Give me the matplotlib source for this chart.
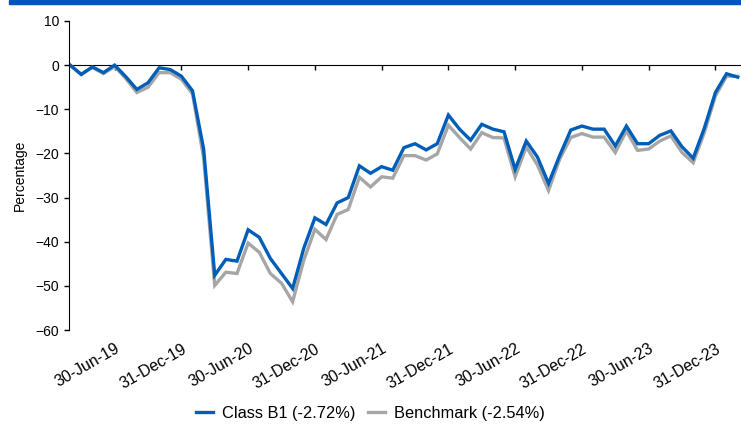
import matplotlib.pyplot as plt
from matplotlib.patches import Rectangle

plt.rcParams['font.family'] = ['Liberation Sans', 'DejaVu Sans']
plt.rcParams['font.size'] = 10

# month-end cumulative returns (%), Feb-19 .. Feb-24
class_b1 = [0, -2.1, -0.4, -1.7, 0, -2.6, -5.5, -4.0, -0.6, -1.0, -2.5,
            -5.8, -19, -47.6, -44.0, -44.4, -37.3, -39.0, -43.8, -47.2, -50.6, -41.5, -34.6,
            -36.1, -31.2, -30.0, -22.8, -24.5, -23.0, -23.8, -18.7, -17.8, -19.2, -17.8, -11.3,
            -14.5, -17.0, -13.4, -14.5, -15.1, -23.6, -17.2, -20.8, -26.8, -20.5, -14.7, -13.8,
            -14.5, -14.5, -18.3, -13.8, -17.8, -17.8, -15.9, -14.9, -18.5, -21.1, -14.3, -6.2,
            -1.95, -2.72]
benchmark = [0, -2.1, -0.5, -1.9, -0.3, -3.0, -6.2, -5.0, -1.7, -1.7, -3.2,
             -6.5, -21, -49.9, -46.9, -47.2, -40.3, -42.4, -47.2, -49.4, -53.6, -44.2, -37.2,
             -39.5, -33.8, -32.7, -25.4, -27.6, -25.3, -25.6, -20.5, -20.5, -21.5, -20.1, -13.6,
             -16.4, -19.0, -15.3, -16.4, -16.5, -25.3, -18.5, -22.6, -28.4, -21.3, -16.4, -15.5,
             -16.3, -16.3, -19.8, -14.9, -19.3, -19.0, -17.2, -16.0, -19.8, -22.1, -15.3, -7.0,
             -2.5, -2.54]
tick_pos = [4, 10, 16, 22, 28, 34, 40, 46, 52, 58]
tick_labels = ['30-Jun-19', '31-Dec-19', '30-Jun-20', '31-Dec-20', '30-Jun-21',
               '31-Dec-21', '30-Jun-22', '31-Dec-22', '30-Jun-23', '31-Dec-23']

blue = '#005EB8'
grey = '#A6A6A6'

fig = plt.figure(figsize=(7.41, 4.25), dpi=100)
fig.patches.append(Rectangle((9 / 741, 1 - 4 / 425), 1, 4 / 425, transform=fig.transFigure,
                             color='#0055B8', zorder=0))
ax = fig.add_axes([69 / 741, 1 - 330 / 425, (741 - 69) / 741, (330 - 21) / 425])

x = list(range(len(class_b1)))
ax.plot(x, benchmark, color=grey, lw=2.4, label='Benchmark (-2.54%)', solid_joinstyle='miter')
ax.plot(x, class_b1, color=blue, lw=2.4, label='Class B1 (-2.72%)', solid_joinstyle='miter')

ax.set_xlim(-0.1, 60.3)
ax.set_ylim(-60, 10)
ax.set_yticks(range(-60, 11, 10))
ax.set_ylabel('Percentage', labelpad=6)

for s in ['top', 'right']:
    ax.spines[s].set_visible(False)
ax.spines['bottom'].set_position(('data', 0))
ax.spines['bottom'].set_zorder(1)
ax.tick_params(axis='y', direction='out', length=3.5, width=1)
ax.set_xticks(tick_pos)
ax.tick_params(axis='x', direction='out', length=3.5, width=1, labelbottom=False)

# date labels sit under the plot, the tick marks stay on the zero line
sec = ax.secondary_xaxis('bottom')
sec.set_xticks(tick_pos, tick_labels, rotation=30, ha='right', rotation_mode='anchor',
               fontsize=11.4)
sec.tick_params(length=0, pad=8)
sec.spines['bottom'].set_visible(False)

h, l = ax.get_legend_handles_labels()
fig.legend(h[::-1], l[::-1], loc='lower center', bbox_to_anchor=(0.5, -0.025), ncol=2,
           frameon=False, fontsize=11.8, handlelength=1.05, columnspacing=0.75,
           handletextpad=0.55)

fig.savefig('out.png', dpi=100)
